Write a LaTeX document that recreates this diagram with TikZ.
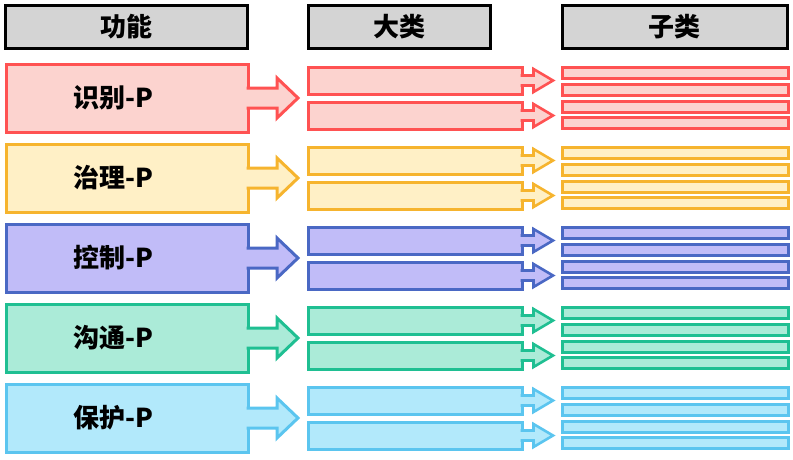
\documentclass[tikz,border=0pt]{standalone}
\usepackage{fontspec}
\newfontfamily\cjk{Noto Sans CJK SC}
\usetikzlibrary{positioning, calc}
\definecolor{rline}{HTML}{FF5252}
\definecolor{rfill}{HTML}{FCD3CF}
\definecolor{yline}{HTML}{F6B42E}
\definecolor{yfill}{HTML}{FFF0C6}
\definecolor{bline}{HTML}{4A68C4}
\definecolor{bfill}{HTML}{C1BCF8}
\definecolor{gline}{HTML}{1FBF92}
\definecolor{gfill}{HTML}{ABEBD8}
\definecolor{cline}{HTML}{5BC5EF}
\definecolor{cfill}{HTML}{B2E9FB}
\definecolor{headfill}{HTML}{D4D4D4}

\begin{document}
\begin{tikzpicture}[
    x=1pt, y=-1pt,
    every node/.style={font=\cjk\bfseries\fontsize{26}{30}\selectfont},
    head/.style={rectangle, draw=black, fill=headfill, line width=3pt,
                 minimum height=43pt, inner sep=0pt, outer sep=0pt},
    fbox/.style={rectangle, line width=3pt, minimum width=242pt,
                 minimum height=68pt, inner sep=0pt, outer sep=0pt},
    mbox/.style={rectangle, line width=3pt, minimum width=214pt,
                 minimum height=27pt, inner sep=0pt, outer sep=0pt},
    sbar/.style={rectangle, line width=3pt, minimum width=226pt,
                 minimum height=11pt, inner sep=0pt, outer sep=0pt},
    blk/.style={line width=3pt, line join=miter},
]
\useasboundingbox (0,0) rectangle (793,459);

% ================================================ column heads
\node[head, minimum width=242pt] (h1) at (126, 26.5) {功能};
\node[head, minimum width=182pt] (h2) at (399, 26.5) {大类};
\node[head, minimum width=225pt] (h3) at (674.5, 26.5) {子类};

% ================================================ one row per function
\foreach \i/\lbl/\c in {0/识别-P/r, 1/治理-P/y, 2/控制-P/b, 3/沟通-P/g, 4/保护-P/c}{
    \node[fbox, draw=\c line, fill=\c fill,
          label={[xshift=-14pt]center:\lbl}] (f\i) at (127, {98+80*\i}) {};
    % big arrow out of the function box
    \draw[blk, draw=\c line, fill=\c fill]
        ($(f\i.east)+(-1.5,-10)$) -- ++(30.5,0) -- ++(0,-10)
        -- ($(f\i.east)+(50,0)$) -- ($(f\i.east)+(29,20)$) -- ++(0,-10)
        -- ($(f\i.east)+(-1.5,10)$);
    % the two main classes
    \node[mbox, draw=\c line, fill=\c fill] (m\i a) at (415, {98+80*\i-17.5}) {};
    \node[mbox, draw=\c line, fill=\c fill] (m\i b) at (415, {98+80*\i+17.5}) {};
    \foreach \k in {a,b}{
        \draw[blk, line width=2.6pt, draw=\c line, fill=\c fill]
            ($(m\i\k.east)+(-1.5,-5)$) -- ++(13,0) -- ++(0,-6.5)
            -- ($(m\i\k.east)+(31,0)$) -- ($(m\i\k.east)+(11.5,11.5)$) -- ++(0,-6.5)
            -- ($(m\i\k.east)+(-1.5,5)$);
    }
    % the four sub classes
    \foreach \j/\dy in {1/-25, 2/-8.5, 3/8.5, 4/25}{
        \node[sbar, draw=\c line, fill=\c fill] (s\i\j) at (675, {98+80*\i+\dy}) {};
    }
}

\end{tikzpicture}
\end{document}
